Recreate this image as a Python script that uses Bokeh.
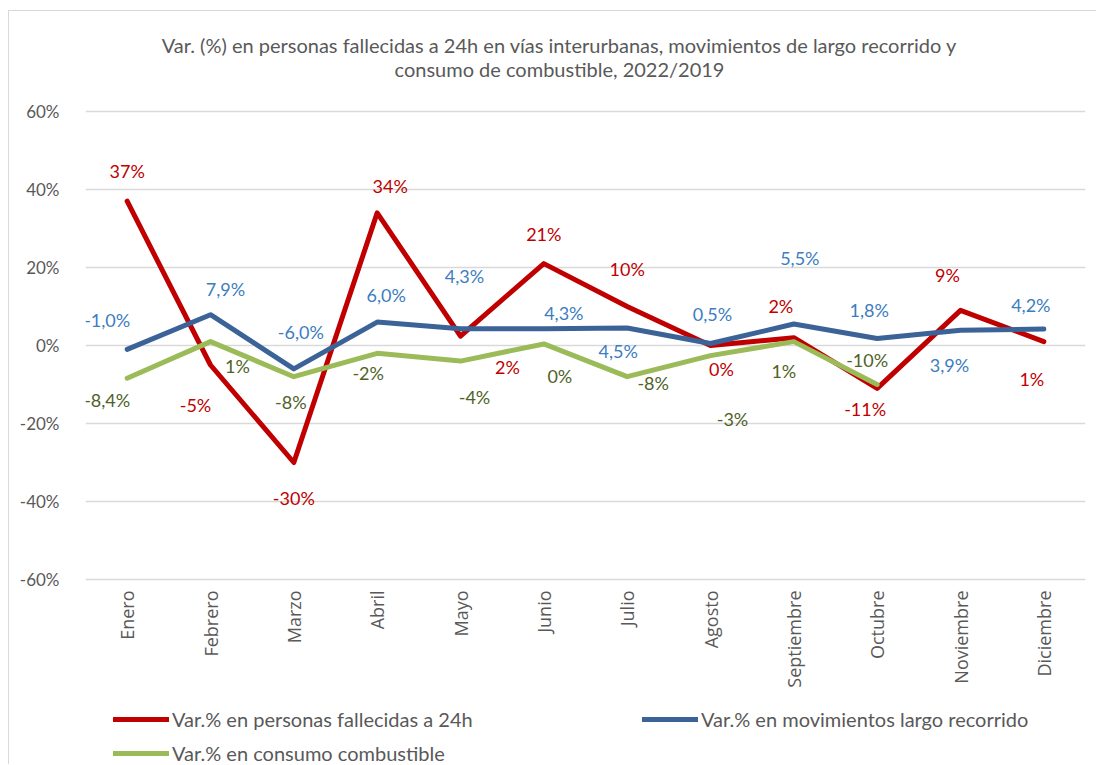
import numpy as np
from bokeh.plotting import figure
from bokeh.models import (ColumnDataSource, FixedTicker, NumeralTickFormatter, Label,
                          Legend, LegendItem, Range1d)
from bokeh.core.properties import value
from bokeh.embed import file_html
from bokeh.resources import INLINE

# ---------------- data ----------------
months = ["Enero", "Febrero", "Marzo", "Abril", "Mayo", "Junio", "Julio",
          "Agosto", "Septiembre", "Octubre", "Noviembre", "Diciembre"]
fallecidos = [37, -5, -30, 34, 2.4, 21, 10, 0, 2, -11, 9, 1]
movimientos = [-1.0, 7.9, -6.0, 6.0, 4.3, 4.3, 4.5, 0.5, 5.5, 1.8, 3.9, 4.2]
combustible = [-8.4, 1, -8, -2, -4, 0.4, -8, -2.6, 1, -10, None, None]

lbl_fallecidos = ["37%", "-5%", "-30%", "34%", "2%", "21%", "10%", "0%", "2%", "-11%", "9%", "1%"]
lbl_movimientos = ["-1,0%", "7,9%", "-6,0%", "6,0%", "4,3%", "4,3%", "4,5%", "0,5%",
                   "5,5%", "1,8%", "3,9%", "4,2%"]
lbl_combustible = ["-8,4%", "1%", "-8%", "-2%", "-4%", "0%", "-8%", "-3%", "1%", "-10%"]

y_ticks = [-0.6, -0.4, -0.2, 0.0, 0.2, 0.4, 0.6]

title_lines = ["Var. (%) en personas fallecidas a 24h en vías interurbanas, movimientos de largo recorrido y",
               "consumo de combustible, 2022/2019"]
series_names = ["Var.% en personas fallecidas a 24h",
                "Var.% en movimientos largo recorrido",
                "Var.% en consumo combustible"]

# ---------------- style ----------------
RED = "#C00000"
BLUE = "#3B6398"
GREEN = "#9BBB59"
RED_LBL = "#C00000"
BLUE_LBL = "#3C7DC0"
GREEN_LBL = "#4F6228"
GREY_TXT = "#595959"
GRID = "#D9D9D9"
FONT = "Lato"

# label pixel offsets (dx, dy) relative to point, screen px (dy positive = down)
off_red = [(0, -30), (-15, 40), (0, 35), (13, -27), (47, 31), (0, -30), (0, -38),
           (11, 23), (-13, -32), (-12, 21), (-13, -35), (-12, 37)]
off_blue = [(-20, -29), (15, -26), (7, -37), (9, -27), (4, -53), (20, -16), (-9, 23),
            (2, -30), (6, -66), (-8, -28), (-11, 35), (-13, -24)]
off_green = [(-20, 22), (27, 24), (-3, 25), (-9, 20), (14, 36), (16, 32), (26, 6),
             (22, 63), (-10, 29), (-10, -25)]

# vertical layout: 390 px per unit of y (3.9 px per 1 %), zero line 334 px below canvas top
CANVAS_H = 754
PX_PER_UNIT = 390.0
ZERO_FROM_TOP = 334
y_top = ZERO_FROM_TOP / PX_PER_UNIT
y_bottom = -(CANVAS_H - ZERO_FROM_TOP) / PX_PER_UNIT

xs = np.arange(len(months), dtype=float)

p = figure(width=1088, height=CANVAS_H, output_backend="svg", toolbar_location=None,
           x_range=Range1d(-0.5, len(months) - 0.5), y_range=Range1d(y_bottom, y_top),
           min_border_left=76, min_border_right=12, min_border_top=0, min_border_bottom=0)
p.styles = {"margin-left": "8px", "margin-top": "10px",
            "border-left": "1px solid #D9D9D9", "border-top": "1px solid #D9D9D9"}
p.outline_line_color = None
p.background_fill_color = "white"
p.border_fill_color = "white"
p.xaxis.visible = False

# y axis
p.yaxis.ticker = FixedTicker(ticks=y_ticks)
p.yaxis.formatter = NumeralTickFormatter(format="0%")
p.yaxis.axis_line_color = None
p.yaxis.major_tick_line_color = None
p.yaxis.minor_tick_line_color = None
p.yaxis.major_label_text_font = FONT
p.yaxis.major_label_text_font_size = "17px"
p.yaxis.major_label_text_color = GREY_TXT
p.yaxis.major_label_standoff = 20

p.xgrid.grid_line_color = None
p.ygrid.ticker = FixedTicker(ticks=y_ticks)
p.ygrid.grid_line_color = GRID
p.ygrid.grid_line_width = 1.5

# category labels under the plot (rotated, reading upward)
cat_src = ColumnDataSource(dict(x=xs, y=[min(y_ticks)] * len(months), t=months))
p.text(x="x", y="y", text="t", source=cat_src, angle=np.pi / 2, y_offset=11,
       text_font=value("Open Sans"), text_font_size="18px", text_color=GREY_TXT,
       text_align="right", text_baseline="middle")

def pct(v):
    return [np.nan if a is None else a / 100.0 for a in v]

r_red = p.line(xs, pct(fallecidos), line_color=RED, line_width=5, line_join="round", line_cap="round")
r_blue = p.line(xs, pct(movimientos), line_color=BLUE, line_width=5, line_join="round", line_cap="round")
r_green = p.line(xs, pct(combustible), line_color=GREEN, line_width=5, line_join="round", line_cap="round")

def add_labels(vals, labels, offs, color):
    n = len(labels)
    src = ColumnDataSource(dict(
        x=xs[:n], y=pct(vals)[:n], t=labels,
        dx=[o[0] for o in offs], dy=[o[1] for o in offs]))
    p.text(x="x", y="y", text="t", x_offset="dx", y_offset="dy", source=src,
           text_font=value(FONT), text_font_size="18px", text_color=color,
           text_align="center", text_baseline="middle")

add_labels(fallecidos, lbl_fallecidos, off_red, RED_LBL)
add_labels(movimientos, lbl_movimientos, off_blue, BLUE_LBL)
add_labels(combustible, lbl_combustible, off_green, GREEN_LBL)

# title (screen units, measured from the frame's bottom-left corner)
for i, line in enumerate(title_lines):
    p.add_layout(Label(x=474, y=CANVAS_H - 33 - 24 * i, x_units="screen", y_units="screen",
                       text=line, text_align="center", text_baseline="middle",
                       text_font=FONT, text_font_size="20px", text_color=GREY_TXT))

legend = Legend(items=[LegendItem(label=series_names[0], renderers=[r_red]),
                       LegendItem(label=series_names[1], renderers=[r_blue]),
                       LegendItem(label=series_names[2], renderers=[r_green])],
                location=(28, 0), orientation="horizontal", ncols=2,
                padding=0, margin=0, spacing=10, border_line_color=None,
                background_fill_alpha=0, glyph_width=56, glyph_height=20,
                label_height=20, label_width=460, label_standoff=3,
                label_text_font=FONT, label_text_font_size="20px",
                label_text_color=GREY_TXT, label_text_baseline="middle")
p.add_layout(legend, "center")

open("out.html", "w").write(file_html(p, INLINE))
